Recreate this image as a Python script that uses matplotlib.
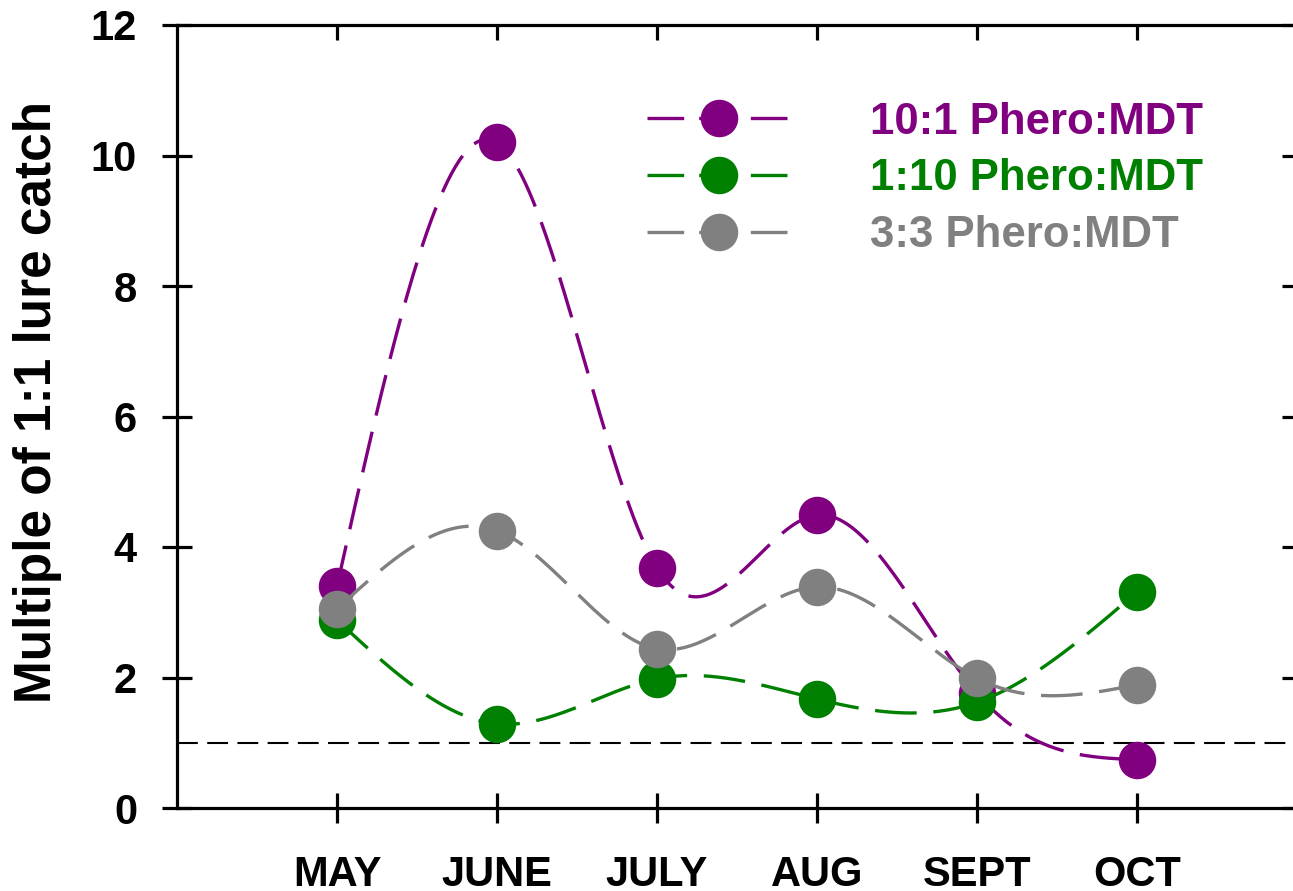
import numpy as np
import matplotlib
matplotlib.use('Agg')
import matplotlib.pyplot as plt

#%% Data
months      = ['MAY', 'JUNE', 'JULY', 'AUG', 'SEPT', 'OCT']
phero_10_1  = [3.40, 10.20, 3.68, 4.49, 1.76, 0.74]
phero_1_10  = [2.88, 1.29, 1.98, 1.67, 1.62, 3.31]
phero_3_3   = [3.05, 4.25, 2.44, 3.39, 1.99, 1.89]
labels      = ['10:1 Phero:MDT', '1:10 Phero:MDT', '3:3 Phero:MDT']
colors      = ['#800080', '#008000', '#808080']
ref_level   = 1.0


#%% Natural cubic spline (for the smoothed curves)
def natural_spline(x, y, n=400):
    x = np.asarray(x, float)
    y = np.asarray(y, float)
    k = len(x)
    h = np.diff(x)
    A = np.zeros((k, k))
    b = np.zeros(k)
    A[0, 0] = A[-1, -1] = 1
    for i in range(1, k - 1):
        A[i, i - 1] = h[i - 1]
        A[i, i] = 2 * (h[i - 1] + h[i])
        A[i, i + 1] = h[i]
        b[i] = 6 * ((y[i + 1] - y[i]) / h[i] - (y[i] - y[i - 1]) / h[i - 1])
    M = np.linalg.solve(A, b)
    xs = np.linspace(x[0], x[-1], n)
    idx = np.clip(np.searchsorted(x, xs) - 1, 0, k - 2)
    x0, x1 = x[idx], x[idx + 1]
    hh = x1 - x0
    t0 = x1 - xs
    t1 = xs - x0
    ys = (M[idx] * t0**3 / (6 * hh) + M[idx + 1] * t1**3 / (6 * hh)
          + (y[idx] / hh - M[idx] * hh / 6) * t0
          + (y[idx + 1] / hh - M[idx + 1] * hh / 6) * t1)
    return xs, ys


#%% Plot
plt.rcParams['font.family'] = ['Liberation Sans', 'DejaVu Sans']
plt.rcParams['font.weight'] = 'bold'

fig = plt.figure(figsize=(12.93, 8.91), dpi=100)
ax = fig.add_axes([177/1293, 83/891, 1120/1293, 783/891])

xpos = np.arange(1, len(months) + 1)
lw = 2.4
for series, lab, col in zip([phero_10_1, phero_1_10, phero_3_3], labels, colors):
    xs, ys = natural_spline(xpos, series)
    ax.plot(xs, ys, color=col, lw=lw, dashes=(12.5, 5))
    ax.plot(xpos, series, 'o', color=col, ms=27, mew=0)
    # legend proxy
    ax.plot([], [], color=col, lw=lw, dashes=(11, 4.5), marker='o', ms=27,
            mew=0, label=lab)

ax.axhline(ref_level, color='k', lw=1.5, dashes=(10, 4.5), zorder=0.5)

ax.set_xlim(0, 7)
ax.set_ylim(0, 12)
ax.set_xticks(xpos)
ax.set_xticklabels(months)
ax.set_yticks(np.arange(0, 13, 2))
ax.set_ylabel('Multiple of 1:1 lure catch', fontsize=37, fontweight='bold')
ax.yaxis.set_label_coords(-0.103, 0.518)

for s in ax.spines.values():
    s.set_linewidth(2.3)

ax.tick_params(axis='both', which='major', direction='inout', length=21.6,
               width=2.3, labelsize=30)
ax.tick_params(axis='x', pad=23)
ax.tick_params(axis='y', pad=18)

# inward ticks on top and right
top = ax.secondary_xaxis('top')
top.set_xticks(xpos)
top.set_xticklabels([])
top.tick_params(direction='in', length=10.8, width=2.3)
right = ax.secondary_yaxis('right')
right.set_yticks(np.arange(0, 13, 2))
right.set_yticklabels([])
right.tick_params(direction='in', length=10.8, width=2.3)

handles, labs = ax.get_legend_handles_labels()
leg = ax.legend(handles[-3:], labs[-3:], loc='upper left',
                bbox_to_anchor=(0.4196, 0.902), frameon=False, fontsize=31.5,
                numpoints=1, handlelength=3.3, handletextpad=1.8,
                labelspacing=0.36, borderpad=0, borderaxespad=0)
for txt, col in zip(leg.get_texts(), colors):
    txt.set_color(col)
    txt.set_fontweight('bold')

fig.savefig('out.png', dpi=100)
